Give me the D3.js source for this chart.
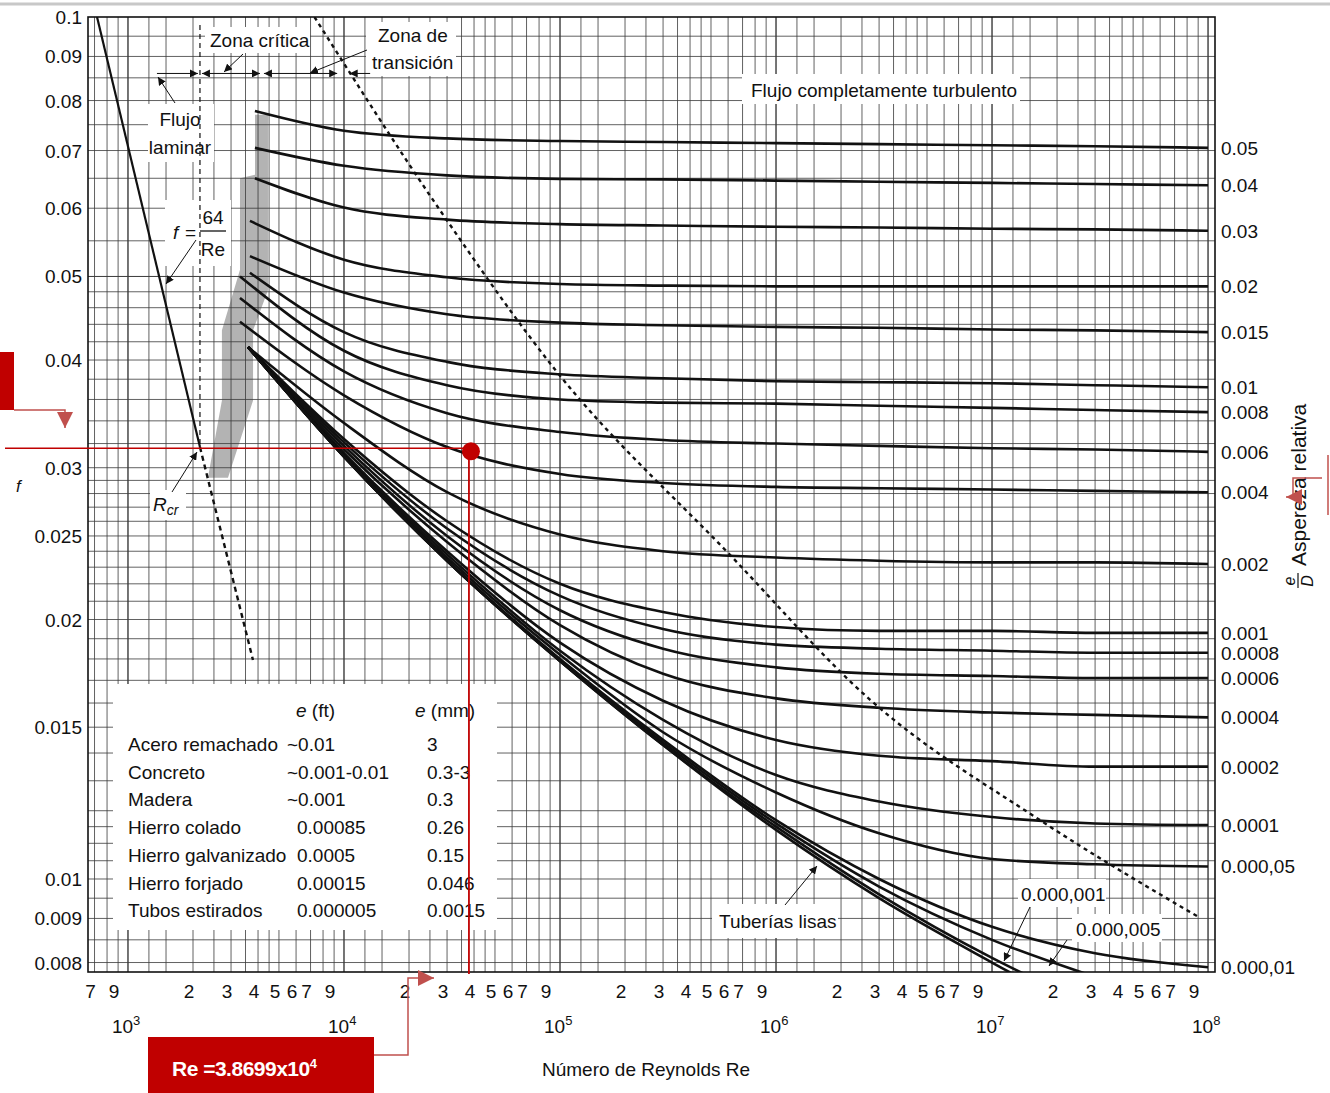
<!DOCTYPE html>
<html>
<head>
<meta charset="utf-8">
<script src="https://cdn.jsdelivr.net/npm/d3@7"></script>
<style>
  body { margin: 0; background: #fff; }
  text { font-family: "Liberation Sans Narrow", "Arial Narrow", "Liberation Sans", Arial, sans-serif; fill: #111; }
</style>
</head>
<body>
<svg id="chart" width="1330" height="1093"></svg>
<script>
// Reynolds numbers where the curves were read (after each curve's own start point)
const reGrid = [1e4, 3e4, 1e5, 3e5, 1e6, 3e6, 1e7, 3e7, 1e8];

// relative roughness e/D, one curve each (last = smooth pipe)
const curveLabels = ["0.05", "0.04", "0.03", "0.02", "0.015", "0.01", "0.008", "0.006", "0.004",
  "0.002", "0.001", "0.0008", "0.0006", "0.0004", "0.0002", "0.0001", "0.000,05", "0.000,01",
  "0.000,005", "0.000,001", "lisa"];

// where each curve begins on the left
const curveStartRe = [3870, 3870, 3870, 3670, 3670, 3670, 3300, 3300, 3300,
  3600, 3600, 3600, 3600, 3600, 3600, 3600, 3600, 3600, 3600, 3600, 3600];
const curveStartF = [0.0778, 0.0705, 0.0650, 0.0580, 0.0528, 0.0505, 0.0500, 0.0472, 0.0443,
  0.0414, 0.0414, 0.0414, 0.0414, 0.0414, 0.0414, 0.0414, 0.0414, 0.0414, 0.0414, 0.0414, 0.0414];

// friction factor f at reGrid
const curveF = [
  [0.0738, 0.0723, 0.0718, 0.0716, 0.0714, 0.0712, 0.0710, 0.0708, 0.0705],
  [0.0672, 0.0655, 0.0649, 0.0648, 0.0646, 0.0644, 0.0642, 0.0640, 0.0638],
  [0.0601, 0.0582, 0.0575, 0.0573, 0.0571, 0.0570, 0.0568, 0.0567, 0.0565],
  [0.0523, 0.0499, 0.0490, 0.0488, 0.0487, 0.0487, 0.0487, 0.0487, 0.0487],
  [0.0479, 0.0452, 0.0442, 0.0439, 0.0437, 0.0436, 0.0434, 0.0433, 0.0431],
  [0.0431, 0.0398, 0.0385, 0.0381, 0.0378, 0.0377, 0.0376, 0.0374, 0.0372],
  [0.0410, 0.0374, 0.0360, 0.0357, 0.0356, 0.0354, 0.0352, 0.0350, 0.0348],
  [0.0388, 0.0347, 0.0330, 0.0323, 0.0320, 0.0318, 0.0316, 0.0315, 0.0313],
  [0.0364, 0.0317, 0.0295, 0.0288, 0.0285, 0.0284, 0.0283, 0.0282, 0.0281],
  [0.0338, 0.0281, 0.0251, 0.0240, 0.0236, 0.0234, 0.0233, 0.0233, 0.0232],
  [0.0324, 0.0260, 0.0220, 0.0204, 0.0196, 0.0194, 0.0194, 0.0193, 0.0193],
  [0.0321, 0.0255, 0.0213, 0.0195, 0.0187, 0.0185, 0.0184, 0.0183, 0.0183],
  [0.0318, 0.0250, 0.0205, 0.0185, 0.0176, 0.0173, 0.0172, 0.0171, 0.0171],
  [0.0315, 0.0246, 0.0197, 0.0173, 0.0162, 0.0158, 0.0156, 0.0155, 0.0154],
  [0.0312, 0.0240, 0.0188, 0.0161, 0.0145, 0.0139, 0.0137, 0.0135, 0.0135],
  [0.0310, 0.0238, 0.0184, 0.0153, 0.0132, 0.0123, 0.0118, 0.0116, 0.01155],
  [0.0310, 0.0236, 0.0182, 0.0148, 0.0126, 0.0113, 0.01055, 0.0104, 0.01034],
  [0.0309, 0.0234, 0.0180, 0.0145, 0.0117, 0.0100, 0.0088, 0.0082, 0.0079],
  [0.0309, 0.0234, 0.0179, 0.0144, 0.0116, 0.0098, 0.0085, 0.0077, null],
  [0.0309, 0.0234, 0.0179, 0.0143, 0.0115, 0.0096, 0.0081, 0.0071, null],
  [0.0309, 0.0234, 0.0179, 0.0143, 0.0114, 0.0095, 0.0080, 0.0069, null]
];
const rightLabelCount = 18;

// laminar line and critical Reynolds
const laminarRe = [719, 2154];
const laminarF = [0.1, 0.0317];
const critDashRe = [2154, 3790];
const critDashF = [0.0317, 0.01795];

// boundary of complete turbulence (dashed)
const turbRe = [7300, 27800, 94800, 6.12e5, 2.72e6, 1.67e7, 9.2e7];
const turbF = [0.1, 0.0597, 0.0390, 0.02377, 0.01615, 0.0117, 0.00901];

// shaded critical zone outline
const zoneRe = [3873, 4447, 4447, 3793, 3793, 2904, 2344, 2722, 2722, 3300, 3300, 3873];
const zoneF = [0.077, 0.077, 0.0482, 0.0433, 0.0359, 0.0292, 0.0292, 0.0359, 0.0433, 0.0509, 0.065, 0.0656];

// axis ticks
const yTicks = [0.1, 0.09, 0.08, 0.07, 0.06, 0.05, 0.04, 0.03, 0.025, 0.02, 0.015, 0.01, 0.009, 0.008];
const firstDigits = [7, 9];
const digitTicks = [2, 3, 4, 5, 6, 7, 9];
const decades = [3, 4, 5, 6, 7, 8];

// roughness table
const materials = ["Acero remachado", "Concreto", "Madera", "Hierro colado", "Hierro galvanizado", "Hierro forjado", "Tubos estirados"];
const eFt = ["~0.01", "~0.001-0.01", "~0.001", "0.00085", "0.0005", "0.00015", "0.000005"];
const eMm = ["3", "0.3-3", "0.3", "0.26", "0.15", "0.046", "0.0015"];

// operating point marked in red
const opRe = 38699;
const opF = 0.0316;

const svg = d3.select("#chart");
const x = d3.scaleLog().domain([653, 1.077e8]).range([88, 1215]);
const y = d3.scaleLog().domain([0.1, 0.0078]).range([17, 972]);
const [x0, x1] = x.range();
const [y0, y1] = y.range();

const defs = svg.append("defs");
defs.append("clipPath").attr("id", "plot").append("rect")
  .attr("x", x0).attr("y", y0).attr("width", x1 - x0).attr("height", y1 - y0);
const mk = (id, color, size) => defs.append("marker").attr("id", id)
  .attr("viewBox", "0 0 10 10").attr("refX", 10).attr("refY", 5)
  .attr("markerWidth", size).attr("markerHeight", size).attr("orient", "auto-start-reverse")
  .attr("markerUnits", "userSpaceOnUse")
  .append("path").attr("d", "M0,0L10,5L0,10z").attr("fill", color);
mk("arr", "#111", 8);
mk("arrRed", "#c0504d", 16);

// page edge line at top
svg.append("line").attr("x1", 0).attr("x2", 1330).attr("y1", 4).attr("y2", 4)
  .attr("stroke", "#c8c8c8").attr("stroke-width", 3);

// shaded critical zone
svg.append("path")
  .attr("d", d3.line()(zoneRe.map((r, i) => [x(r), y(zoneF[i])])) + "Z")
  .attr("fill", "#9a9a9a").attr("opacity", 0.75);

// grid
const gridMult = [1, 1.25, 1.5, 2, 2.5, 3, 3.5, 4, 4.5, 5, 6, 7, 8, 9];
const vGrid = [];
for (let d = 2; d <= 8; d++) gridMult.forEach(m => {
  const v = m * Math.pow(10, d);
  if (v > x.domain()[0] && v < x.domain()[1]) vGrid.push(v);
});
const hGrid = [...d3.range(0.008, 0.012, 0.0005), ...d3.range(0.012, 0.03, 0.001),
  ...d3.range(0.03, 0.05, 0.002), ...d3.range(0.05, 0.1, 0.005)];

const grid = svg.append("g").attr("stroke", "#3a3a3a");
grid.selectAll("line.v").data(vGrid).join("line").attr("class", "v")
  .attr("x1", d => x(d)).attr("x2", d => x(d)).attr("y1", y0).attr("y2", y1)
  .attr("stroke-width", d => Math.abs(Math.log10(d) % 1) < 1e-6 ? 1.4 : 0.8);
grid.selectAll("line.h").data(hGrid).join("line").attr("class", "h")
  .attr("x1", x0).attr("x2", x1).attr("y1", d => y(d)).attr("y2", d => y(d))
  .attr("stroke-width", 0.8);
svg.append("rect").attr("x", x0).attr("y", y0).attr("width", x1 - x0).attr("height", y1 - y0)
  .attr("fill", "none").attr("stroke", "#111").attr("stroke-width", 1.6);

// white label backgrounds
const boxes = [[742, 74, 278, 30], [205, 27, 105, 26], [366, 22, 90, 54], [148, 104, 66, 58],
  [165, 200, 66, 66], [150, 490, 36, 30], [712, 904, 126, 34], [1018, 879, 88, 28], [1072, 914, 90, 28]];
svg.append("g").selectAll("rect").data(boxes).join("rect")
  .attr("x", d => d[0]).attr("y", d => d[1]).attr("width", d => d[2]).attr("height", d => d[3])
  .attr("fill", "#fff");

// curves
const plot = svg.append("g").attr("clip-path", "url(#plot)");
const curveLine = d3.line().defined(d => d[1] != null)
  .x(d => x(d[0])).y(d => y(d[1])).curve(d3.curveMonotoneX);
plot.selectAll("path.curve").data(curveF).join("path").attr("class", "curve")
  .attr("d", (row, k) => curveLine([[curveStartRe[k], curveStartF[k]], ...row.map((f, i) => [reGrid[i], f])]))
  .attr("fill", "none").attr("stroke", "#111").attr("stroke-width", 2.6);

plot.append("path")
  .attr("d", d3.line()(laminarRe.map((r, i) => [x(r), y(laminarF[i])])))
  .attr("stroke", "#111").attr("stroke-width", 2.2);
plot.append("path")
  .attr("d", d3.line()(critDashRe.map((r, i) => [x(r), y(critDashF[i])])))
  .attr("stroke", "#111").attr("stroke-width", 2.4).attr("stroke-dasharray", "5,4");
plot.append("line")
  .attr("x1", x(laminarRe[1])).attr("x2", x(laminarRe[1]))
  .attr("y1", y(0.1) + 8).attr("y2", y(laminarF[1]))
  .attr("stroke", "#111").attr("stroke-width", 1.2).attr("stroke-dasharray", "5,4");
plot.append("path")
  .attr("d", d3.line().curve(d3.curveMonotoneX)(turbRe.map((r, i) => [x(r), y(turbF[i])])))
  .attr("fill", "none").attr("stroke", "#111").attr("stroke-width", 2.4).attr("stroke-dasharray", "4,4");

// zone arrows along f = 0.086
const zoneRow = y(0.086);
const zoneSegs = [[1333, 2154, false, true], [2154, 4170, true, true], [4170, 9500, true, true], [10400, 13500, true, false]];
svg.append("g").selectAll("line").data(zoneSegs).join("line")
  .attr("x1", d => x(d[0]) + 2).attr("x2", d => x(d[1]) - 2)
  .attr("y1", zoneRow).attr("y2", zoneRow)
  .attr("stroke", "#111").attr("stroke-width", 1)
  .attr("marker-start", d => d[2] ? "url(#arr)" : null)
  .attr("marker-end", d => d[3] ? "url(#arr)" : null);

// leader lines
const leaders = [[243, 54, 224, 72], [367, 50, 310, 73], [175, 103, 158, 77], [196, 240, 166, 284],
  [172, 492, 197, 452], [785, 905, 817, 866], [1030, 907, 1004, 961], [1067, 940, 1049, 966]];
svg.append("g").selectAll("line").data(leaders).join("line")
  .attr("x1", d => d[0]).attr("y1", d => d[1]).attr("x2", d => d[2]).attr("y2", d => d[3])
  .attr("stroke", "#111").attr("stroke-width", 1).attr("marker-end", "url(#arr)");

// annotation text
const txt = (s, tx, ty, opt = {}) => svg.append("text").attr("x", tx).attr("y", ty)
  .attr("font-size", opt.size || 19).attr("text-anchor", opt.anchor || "start")
  .attr("font-style", opt.italic ? "italic" : null).text(s);
txt("Zona crítica", 210, 47);
txt("Zona de", 378, 42);
txt("transición", 372, 69);
txt("Flujo completamente turbulento", 751, 97);
txt("Flujo", 180, 126, {anchor: "middle"});
txt("laminar", 180, 154, {anchor: "middle"});
txt("f", 173, 239, {italic: true});
txt("=", 185, 239);
txt("64", 213, 224, {anchor: "middle"});
svg.append("line").attr("x1", 200).attr("x2", 226).attr("y1", 231).attr("y2", 231).attr("stroke", "#111").attr("stroke-width", 1.3);
txt("Re", 213, 256, {anchor: "middle"});
const rcr = txt("R", 153, 511, {italic: true});
rcr.append("tspan").attr("font-size", 14).attr("dy", 4).text("cr");
txt("Tuberías lisas", 719, 928);
txt("0.000,001", 1021, 901);
txt("0.000,005", 1076, 936);
txt("f", 16, 492, {italic: true, size: 17});

// y axis labels
svg.append("g").selectAll("text").data(yTicks).join("text")
  .attr("x", 82).attr("y", d => y(d) + 7).attr("text-anchor", "end")
  .attr("font-size", 19).text(d => String(d));

// right-hand roughness labels
svg.append("g").selectAll("text").data(curveLabels.slice(0, rightLabelCount)).join("text")
  .attr("x", 1221).attr("y", (d, i) => y(curveF[i][curveF[i].length - 1]) + 7)
  .attr("font-size", 19).text(d => d);

// rotated right title
const rt = svg.append("g").attr("transform", "translate(1297,482) rotate(-90)");
rt.append("text").attr("x", -84).attr("y", 9).attr("font-size", 21).text("Aspereza relativa");
rt.append("text").attr("x", -99).attr("y", -2).attr("font-size", 16).attr("font-style", "italic")
  .attr("text-anchor", "middle").text("e");
rt.append("line").attr("x1", -106).attr("x2", -91).attr("y1", 1).attr("y2", 1).attr("stroke", "#111").attr("stroke-width", 1.2);
rt.append("text").attr("x", -99).attr("y", 16).attr("font-size", 16).attr("font-style", "italic")
  .attr("text-anchor", "middle").text("D");

// x axis digits
const digitVals = firstDigits.map(m => m * 100);
decades.slice(0, 5).forEach(d => digitTicks.forEach(m => digitVals.push(m * Math.pow(10, d))));
svg.append("g").selectAll("text").data(digitVals).join("text")
  .attr("x", d => x(d) - 4).attr("y", 998).attr("text-anchor", "middle")
  .attr("font-size", 19).text(d => Math.round(d / Math.pow(10, Math.floor(Math.log10(d) + 1e-9))));
const decG = svg.append("g").selectAll("text").data(decades).join("text")
  .attr("x", d => x(Math.pow(10, d)) - 16).attr("y", 1033).attr("font-size", 19).text("10");
decG.append("tspan").attr("dy", -8).attr("font-size", 13).text(d => d);
txt("Número de Reynolds Re", 646, 1076, {anchor: "middle"});

// roughness table
svg.append("rect").attr("x", 113).attr("y", 684).attr("width", 384).attr("height", 246).attr("fill", "#fff");
const hd1 = txt("e", 296, 717, {italic: true}); hd1.append("tspan").attr("font-style", "normal").text(" (ft)");
const hd2 = txt("e", 415, 717, {italic: true}); hd2.append("tspan").attr("font-style", "normal").text(" (mm)");
const rowY = i => 751 + i * 27.7;
svg.append("g").selectAll("text").data(materials).join("text")
  .attr("x", 128).attr("y", (d, i) => rowY(i)).attr("font-size", 19).text(d => d);
svg.append("g").selectAll("text").data(eFt).join("text")
  .attr("x", d => d.startsWith("~") ? 287 : 297).attr("y", (d, i) => rowY(i)).attr("font-size", 19).text(d => d);
svg.append("g").selectAll("text").data(eMm).join("text")
  .attr("x", 427).attr("y", (d, i) => rowY(i)).attr("font-size", 19).text(d => d);

// red operating point overlay
const red = "#c00000";
const px = x(opRe), py = y(opF);
svg.append("line").attr("x1", 5).attr("x2", px).attr("y1", py).attr("y2", py).attr("stroke", red).attr("stroke-width", 1.6);
svg.append("line").attr("x1", px - 2).attr("x2", px - 2).attr("y1", py).attr("y2", y1 + 2).attr("stroke", red).attr("stroke-width", 1.8);
svg.append("circle").attr("cx", px).attr("cy", py + 3).attr("r", 9).attr("fill", red);

svg.append("rect").attr("x", 0).attr("y", 352).attr("width", 14).attr("height", 58).attr("fill", red);
svg.append("path").attr("d", "M14,410H65V428").attr("fill", "none").attr("stroke", "#c0504d")
  .attr("stroke-width", 1.5).attr("marker-end", "url(#arrRed)");

svg.append("rect").attr("x", 148).attr("y", 1037).attr("width", 226).attr("height", 56).attr("fill", red);
const reTxt = svg.append("text").attr("x", 172).attr("y", 1076).attr("font-size", 21)
  .attr("font-weight", "bold").style("fill", "#fff").attr("letter-spacing", -0.5).text("Re =3.8699x10");
reTxt.append("tspan").attr("dy", -8).attr("font-size", 13).text("4");
svg.append("path").attr("d", "M374,1055H408V978H434").attr("fill", "none").attr("stroke", "#c0504d")
  .attr("stroke-width", 1.5).attr("marker-end", "url(#arrRed)");

svg.append("path").attr("d", "M1322,478H1293V497H1286").attr("fill", "none").attr("stroke", "#c0504d")
  .attr("stroke-width", 1.5).attr("marker-end", "url(#arrRed)");
svg.append("line").attr("x1", 1328).attr("x2", 1328).attr("y1", 455).attr("y2", 515)
  .attr("stroke", "#c0504d").attr("stroke-width", 1.5);
</script>
</body>
</html>
